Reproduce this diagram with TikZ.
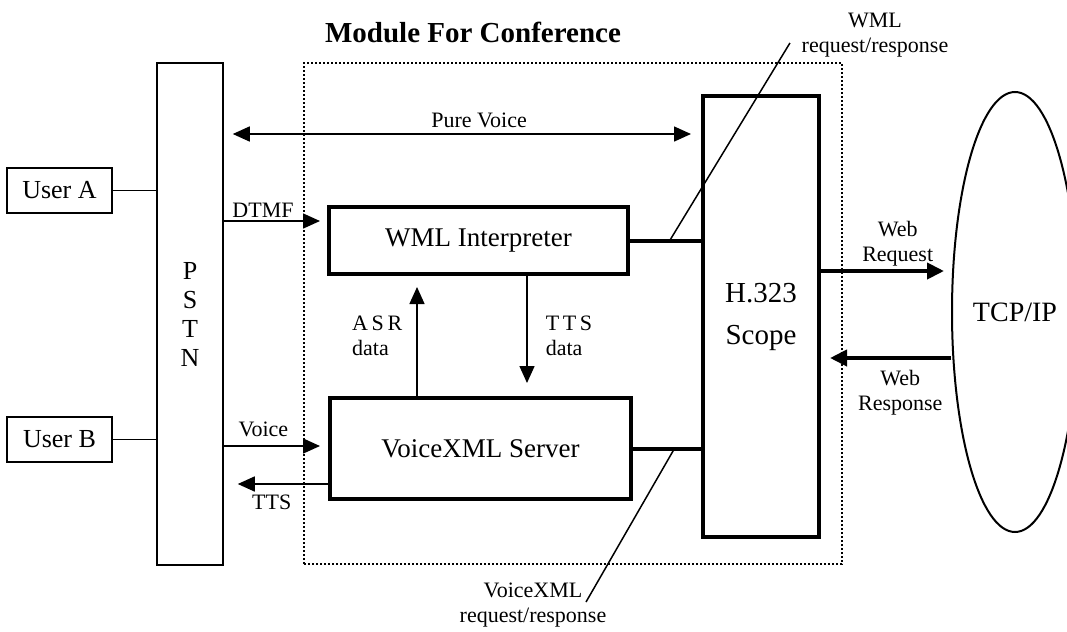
\documentclass[tikz,border=0pt]{standalone}
\usepackage{fontspec}
\setmainfont{Liberation Serif}
\usetikzlibrary{arrows.meta,positioning,shapes.geometric}

\begin{document}
\begin{tikzpicture}[
    x=0.5pt, y=-0.5pt,
    line width=0.75pt,
    every node/.style={font=\fontsize{11}{12.5}\selectfont, inner sep=0pt},
    user/.style={draw, line width=1pt, minimum width=52.5pt, minimum height=22.5pt, font=\fontsize{13}{15}\selectfont},
    unit/.style={draw, line width=2pt, font=\fontsize{13.5}{15}\selectfont},
    note/.style={align=center},
    flow/.style={-{Triangle[length=8.5pt, width=7.5pt]}},
    twoway/.style={{Triangle[length=8.5pt, width=7.5pt]}-{Triangle[length=8.5pt, width=7.5pt]}},
    bigflow/.style={-{Triangle[length=8.5pt, width=8pt]}, line width=2pt},
    link/.style={line width=2pt}
]
\useasboundingbox (0,0) rectangle (1067,632);
\clip (0,0) rectangle (1067,632);
\node[user] (usera) at (59.5,190.5) {User A};
\node[user] (userb) at (59.5,439.5) {User B};
\node[draw, minimum width=33pt, minimum height=251pt, align=center, font=\fontsize{13}{14.5}\selectfont] (pstn) at (190,314) {P\\S\\T\\N};
\node[draw, line width=1pt, dash pattern=on 1pt off 1pt, minimum width=269pt, minimum height=250.5pt] (module) at (573,313.5) {};
\node[font=\fontsize{14.5}{16}\selectfont\bfseries] (title) at (473,32) {Module For Conference};
\node[unit, minimum width=149.5pt, minimum height=33.5pt] (wml) at (478.5,240.5) {WML Interpreter};
\node[unit, minimum width=150.5pt, minimum height=50.5pt] (vxml) at (480.5,448.5) {VoiceXML Server};
\node[unit, minimum width=58pt, minimum height=220.5pt, align=center, font=\fontsize{14.5}{21}\selectfont] (h323) at (761,316.5) {H.323\\Scope};
\node[ellipse, draw, line width=1pt, minimum width=63pt, minimum height=220pt, font=\fontsize{14}{16}\selectfont] (tcpip) at (1015,312) {TCP/IP};
\node[note] (wmlnote) at (875,35) {WML\\request/response};
\node[note] (vxmlnote) at (533,605) {VoiceXML\\request/response};
\coordinate (pv) at (0,134);
\coordinate (dtmf) at (0,221);
\coordinate (voice) at (0,446);
\coordinate (tts) at (0,484);
\coordinate (asr) at (417,0);
\coordinate (ttsdata) at (527,0);
\coordinate (webreq) at (0,271);
\coordinate (webresp) at (0,358);
\draw (usera.east) -- (usera.east -| pstn.west);
\draw (userb.east) -- (userb.east -| pstn.west);
\draw[twoway, shorten <=4.5pt, shorten >=5pt] (pv -| pstn.east) -- (pv -| h323.west) node[pos=0.535, above=2.5pt] {Pure Voice};
\draw[flow, shorten >=3.5pt] (dtmf -| pstn.east) -- (dtmf -| wml.west) node[pos=0.38, above=1.5pt] {DTMF};
\draw[flow, shorten >=4pt] (voice -| pstn.east) -- (voice -| vxml.west) node[pos=0.38, above=4pt] {Voice};
\draw[flow, shorten >=7pt] (tts -| vxml.west) -- (tts -| pstn.east) node[pos=0.54, below=5pt] {TTS};
\draw[flow, shorten >=5.5pt] (asr |- vxml.north) -- (asr |- wml.south) node[midway, left=7pt, align=left] {A\,S\,R\\data};
\draw[flow, shorten >=6.5pt] (ttsdata |- wml.south) -- (ttsdata |- vxml.north) node[midway, right=9pt, align=left] {T\,T\,S\\data};
\draw[link] (wml.east) -- (wml.east -| h323.west) coordinate[pos=0.56] (wmltap);
\draw[link] (vxml.east) -- (vxml.east -| h323.west) coordinate[pos=0.61] (vxmltap);
\draw (wmltap) -- ([xshift=-5.5pt, yshift=-4pt]wmlnote.west);
\draw (vxmltap) -- ([xshift=26.5pt, yshift=1.5pt]vxmlnote.center);
\draw[bigflow, shorten >=3.5pt] (webreq -| h323.east) -- (webreq -| tcpip.west) node[pos=0.59, above=1.5pt, note] {Web\\Request};
\draw[bigflow, shorten >=4.5pt] (webresp -| tcpip.west) -- (webresp -| h323.east) node[pos=0.39, below=5pt, note] {Web\\Response};
\end{tikzpicture}
\end{document}
